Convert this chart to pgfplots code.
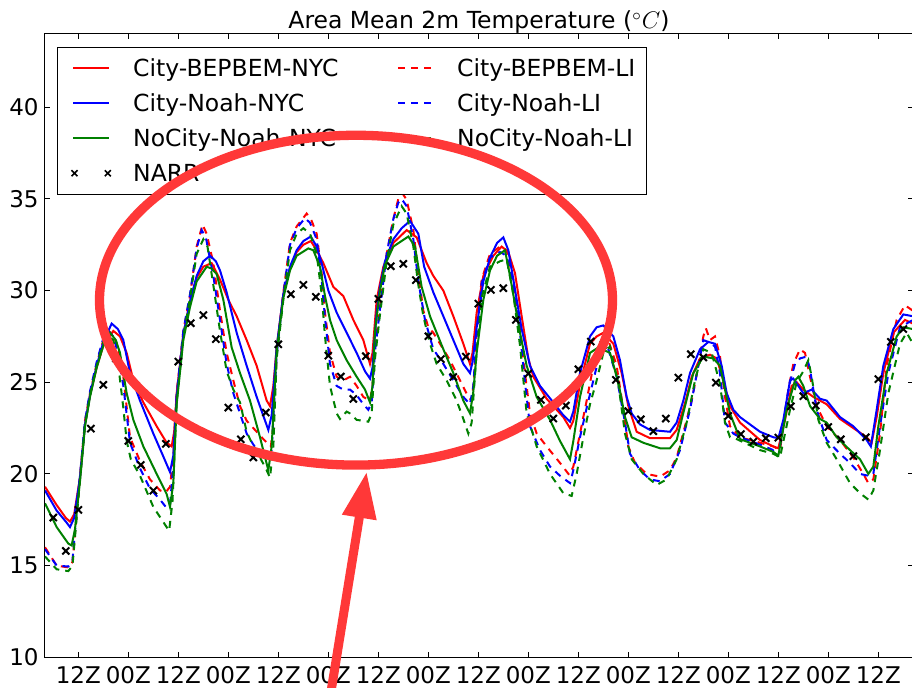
\documentclass[border=0pt]{standalone}
\usepackage{fontspec}
\setmainfont{DejaVu Sans}
\usepackage{pgfplots}
\pgfplotsset{compat=1.18}
\usetikzlibrary{arrows.meta}
\definecolor{mplgreen}{rgb}{0,0.5,0}
\definecolor{annot}{RGB}{255,56,56}
\pgfplotsset{
  legA/.style={legend image code/.code={\path[draw=none,fill=none] (0pt,0pt) rectangle (33pt,0pt); \draw[##1] (3pt,0pt) -- (20.8pt,0pt);}},
  legB/.style={legend image code/.code={\path[draw=none,fill=none] (0pt,0pt) rectangle (29.5pt,0pt); \draw[##1] (0pt,0pt) -- (16.5pt,0pt);}},
  dashedmpl/.style={dash pattern=on 3.5pt off 3pt},
}
\begin{document}
\begin{tikzpicture}
\useasboundingbox (0,0) rectangle (456pt,344pt);
\begin{axis}[
  at={(22.5pt,15.35pt)}, anchor=south west,
  scale only axis, width=433.96pt, height=311.7pt,
  xmin=4, xmax=212.3, ymin=10, ymax=44,
  xtick={12,24,...,204},
  xticklabels={12Z,00Z,12Z,00Z,12Z,00Z,12Z,00Z,12Z,00Z,12Z,00Z,12Z,00Z,12Z,00Z,12Z},
  ytick={10,15,...,40},
  tick align=inside,
  major tick length=2.5pt,
  axis line style={line width=0.5pt},
  tick style={line width=0.5pt, black},
  every tick label/.append style={font=\fontsize{11.5}{13}\selectfont},
  /pgf/number format/assume math mode=true,
  xticklabel style={inner sep=0pt, yshift=-4.4pt, anchor=north},
  yticklabel style={inner sep=0pt, xshift=-3pt, anchor=east},
  title={Area Mean 2m Temperature ($^\circ C$)},
  every axis title/.style={at={(0.5,1)}, anchor=base, yshift=2.5pt, inner sep=0pt, font=\fontsize{11.75}{14}\selectfont},
  legend columns=2,
  legend cell align=left,
  legend style={
    at={(axis description cs:0.0135,0.9796)}, anchor=north west,
    draw=black, line width=0.5pt, fill=white,
    inner xsep=5pt, inner ysep=1.8pt,
    row sep=0pt, column sep=0pt,
    font=\fontsize{11.75}{14}\selectfont,
    nodes={inner sep=0pt, text height=12.9pt, text depth=4.6pt, anchor=west},
    /tikz/column 2/.style={nodes={text width=132pt}},
    /tikz/column 4/.style={nodes={text width=89.65pt}},
  },
]
% City-BEPBEM-NYC
\addplot[red, line width=1pt, legA] coordinates {
(4,19.3)(6.8,18.3)(9,17.6)(10,17.4)(11,17.8)(12.4,19.8)(13.6,22.7)(14.8,24.3)(16.4,25.8)(18,27.0)(20.4,27.8)(22,27.5)(23.6,26.6)(25.2,25.1)(27.6,23.9)(30.8,22.6)(33.2,21.7)(34.4,21.5)(35,22.3)(35.6,24.4)(37.2,27.6)(38.8,29.4)(40.4,30.7)(42,31.3)(44,31.5)(46,30.6)(48,29.5)(50,28.6)(52.4,27.3)(54.8,25.9)(57.2,24.0)(58,23.7)(58.8,24.8)(59.6,26.9)(61.2,29.8)(62.8,31.2)(64.4,32.1)(66,32.5)(67.8,32.7)(69.2,32.2)(70.8,31.5)(73.2,30.2)(75.6,29.7)(78,28.4)(80.4,27.3)(82,26.0)(82.6,26.6)(83.6,29.5)(85.2,31.3)(87.6,32.6)(90.8,33.3)(93.2,32.9)(95.6,31.5)(97.2,30.8)(99.6,30.0)(102,28.6)(104.4,27.1)(106,26.0)(106.6,26.6)(107.6,28.8)(109.2,30.8)(111.6,31.9)(113.6,32.4)(115.2,32.1)(116.8,30.95)(118.4,28.6)(120,26.3)(121.2,25.3)(124.4,24.1)(128.4,23.1)(130,22.5)(130.8,22.9)(132.4,24.9)(134.8,27.1)(136.4,27.5)(138,27.7)(140.4,27.1)(142.4,25.5)(144,23.7)(146,22.3)(149.2,21.95)(154,21.95)(155.6,22.4)(157.6,23.85)(159.2,25.3)(161.2,26.3)(163.6,26.5)(165.2,26.3)(166.8,25.1)(168.4,23.7)(170.8,22.8)(175.6,21.85)(178.8,21.5)(180,21.4)(181.6,22.95)(183.2,24.8)(184.4,25.0)(186,24.6)(188.4,24.2)(191.6,23.8)(194.8,23.0)(198,22.5)(201.2,22.0)(202.4,21.7)(203.6,23.1)(205.2,25.5)(207.6,27.7)(210.4,28.4)(212.3,28.2)
};
\addlegendentry{City-BEPBEM-NYC}
% City-BEPBEM-LI
\addplot[red, line width=1pt, dashedmpl, legB] coordinates {
(4,16.0)(6.8,15.0)(9.6,14.9)(10.6,15.2)(11.6,17.8)(12.4,19.8)(13.6,22.9)(14.8,24.4)(16.4,26.0)(18,27.3)(19.2,27.8)(20.4,27.6)(21.5,26.9)(22.8,25.3)(24.4,22.0)(26.8,20.7)(29.2,19.7)(31.6,19.1)(33,19.0)(34,19.3)(34.8,21.0)(35.6,24.4)(37.2,27.8)(38.8,29.7)(40.4,32.4)(41.8,33.6)(42.8,33.1)(44.4,31.5)(46,28.9)(47.6,26.6)(49.2,25.1)(50.8,23.7)(52.4,22.9)(54,22.5)(56.4,21.9)(58.2,21.5)(58.8,22.6)(59.6,26.6)(61.2,29.9)(62.8,32.6)(64.4,33.5)(66.8,34.2)(68,33.8)(69.2,33.1)(70.4,30.95)(71.2,28.8)(72.4,26.6)(74,25.3)(75.6,25.1)(77.2,25.3)(78.8,24.8)(80.4,24.2)(82,24.0)(82.6,24.8)(83.2,26.9)(84.4,29.1)(86,32.0)(87.6,33.9)(88.8,35.0)(89.8,35.3)(90.8,34.95)(92.4,33.3)(93.6,30.95)(94.8,28.9)(96,28.0)(97.2,27.7)(98.8,27.1)(101.2,26.2)(103.6,25.1)(105.6,24.2)(106.4,24.0)(106.9,25.0)(107.6,27.9)(108.8,30.6)(110.8,32.0)(113.2,32.4)(114.8,32.2)(116.4,30.6)(118,28.0)(119.2,25.5)(120.4,23.3)(122,22.2)(124.4,21.5)(127.6,20.6)(129.8,19.95)(130.8,20.4)(132.4,22.2)(134,24.0)(135.6,25.9)(137.6,27.3)(139.2,27.3)(141.2,25.9)(142.8,23.5)(144,21.5)(145.6,20.6)(148.4,20.0)(151.6,19.85)(154,20.2)(155.6,20.9)(157.6,22.6)(159.2,24.0)(160.8,25.9)(162,27.5)(162.6,27.95)(163.6,27.3)(164.8,27.5)(166,26.4)(167.2,24.2)(168.4,22.6)(170.8,22.0)(175.6,21.7)(178.8,21.5)(180.4,21.3)(182.4,24.6)(183.6,26.0)(185.2,26.8)(186.4,26.6)(187.6,25.3)(189.2,23.7)(191.6,22.6)(194.8,21.85)(198,20.9)(200.4,20.0)(201.6,19.5)(202.8,19.7)(204.4,22.2)(206,25.9)(208.4,28.4)(210.4,29.2)(212.3,28.9)
};
\addlegendentry{City-BEPBEM-LI}
% City-Noah-NYC
\addplot[blue, line width=1pt, legA] coordinates {
(4,19.1)(6.8,18.0)(9,17.4)(10,17.1)(11,17.6)(12.4,19.8)(13.6,22.7)(14.8,24.3)(16.4,25.9)(18,27.2)(20,28.2)(21.5,27.9)(22.8,27.3)(24.4,25.5)(26.8,24.0)(30,22.2)(32.4,20.95)(34,20.1)(34.8,21.0)(35.6,24.2)(37.2,27.6)(38.8,29.4)(40.4,30.8)(42,31.6)(43.6,31.9)(45,31.6)(46,31.1)(47.6,29.9)(50,27.7)(52.4,25.9)(54.8,24.2)(57.6,22.4)(58.4,23.2)(59.6,26.9)(61.2,29.8)(62.8,31.3)(64.4,32.2)(66,32.7)(67.8,32.95)(69.2,32.4)(70.4,31.5)(72,30.0)(74,28.8)(76.4,27.7)(78.8,26.6)(80.8,25.6)(82,25.2)(82.6,25.8)(83.6,28.8)(84.4,30.2)(85.6,31.6)(87.6,32.8)(89.6,33.4)(91.6,33.8)(93.6,33.1)(95,31.3)(97.2,29.9)(99.6,28.6)(102,27.3)(104.4,26.0)(106,25.5)(106.6,26.1)(107.6,28.0)(109.2,30.5)(110.8,31.8)(112.5,32.6)(114,32.9)(115.2,32.2)(116.4,30.6)(118.4,27.9)(120.4,25.9)(122.8,24.8)(126,23.9)(128.4,23.2)(130,22.85)(130.8,23.4)(132.4,25.5)(134.8,27.5)(136.4,28.0)(138,28.1)(140.4,27.5)(142,26.2)(143.6,24.2)(144.8,23.3)(146.8,22.7)(149.2,22.4)(154,22.3)(155.6,22.8)(157.2,24.0)(158.8,25.5)(161.2,26.8)(163.2,27.2)(164.8,27.1)(166.4,25.9)(167.6,24.4)(169.2,23.5)(170.8,23.1)(175.6,22.3)(178.8,22.0)(180,21.95)(181.2,22.95)(182.8,25.1)(183.6,25.2)(186,24.4)(188,24.6)(190,24.1)(191.6,24.0)(194.8,23.1)(198,22.6)(201.2,21.85)(202.2,21.5)(203.6,23.5)(205.2,25.9)(207.6,27.9)(210,28.7)(212.3,28.6)
};
\addlegendentry{City-Noah-NYC}
% City-Noah-LI
\addplot[blue, line width=1pt, dashedmpl, legB] coordinates {
(4,15.9)(6.8,15.0)(9.6,14.95)(10.6,15.3)(11.6,17.9)(12.4,19.9)(13.6,22.9)(14.8,24.5)(16.4,26.1)(18,27.4)(19.2,27.8)(20.4,27.5)(21.5,26.6)(22.8,24.8)(24.4,21.7)(26.8,20.3)(29.2,19.2)(31.6,18.6)(33,18.2)(34,18.3)(34.8,20.5)(35.6,24.3)(37.2,27.8)(38.8,29.8)(40.4,32.3)(41.6,33.3)(42.6,32.9)(44.4,30.8)(46,28.4)(47.6,26.0)(49.2,24.4)(50.8,23.3)(52.4,22.2)(54,21.6)(55.6,21.1)(57.6,20.9)(58.4,21.3)(59.6,26.5)(61.2,29.8)(62.8,32.5)(64.4,33.4)(66.4,33.95)(67.6,33.7)(69.2,32.8)(70.4,30.6)(71.2,28.5)(72.4,26.0)(74,24.8)(75.6,24.6)(77.2,24.6)(78.8,24.3)(80.4,23.8)(81.6,23.5)(82.4,23.9)(83.2,26.7)(84.4,29.0)(86,32.0)(87.6,33.9)(88.8,34.8)(89.6,35.0)(90.8,34.6)(92.4,32.8)(93.6,30.5)(95.2,28.4)(97.2,26.8)(99.6,26.0)(102,25.1)(104.4,24.2)(106,23.8)(106.8,24.8)(107.6,27.6)(108.8,30.4)(110.8,31.8)(113.2,32.1)(114.8,31.9)(116.4,30.3)(118,27.7)(119.2,25.0)(120.4,22.6)(122.8,21.3)(125.2,20.4)(127.6,19.9)(130,19.5)(130.8,20.2)(132.4,22.0)(134,23.6)(135.6,25.1)(137.2,26.6)(138.8,27.1)(141.2,25.3)(143.2,22.8)(144.4,21.1)(146.8,20.2)(149.2,19.7)(151.6,19.6)(154,20.0)(156.4,21.3)(158.8,23.5)(160.8,25.9)(162,27.3)(163.2,27.2)(164.8,26.95)(166,25.5)(167.2,22.8)(169.2,22.2)(170.8,22.0)(175.6,21.6)(178.8,21.3)(180.4,21.5)(182,24.0)(182.8,25.0)(184,26.0)(185.2,26.3)(186.8,26.4)(187.6,25.7)(189.2,23.5)(191.6,21.85)(194.8,21.1)(197.2,20.6)(199.6,20.0)(201.6,19.9)(202.8,20.0)(204.4,22.6)(206.4,25.5)(209.2,28.0)(212.3,28.4)
};
\addlegendentry{City-Noah-LI}
% NoCity-Noah-NYC
\addplot[mplgreen, line width=1pt, legA] coordinates {
(4,18.4)(6.8,17.1)(9.6,16.2)(10.4,16.1)(11.2,17.0)(12.4,19.6)(13.6,22.6)(14.8,24.2)(16.4,25.8)(18,27.0)(19.6,27.7)(21,27.3)(22,26.6)(23.6,24.4)(25.2,22.95)(27.6,21.5)(30.8,20.0)(33.2,18.9)(34,18.2)(34.8,19.5)(35.6,23.8)(37.2,27.3)(38.8,29.1)(40.4,30.5)(42.8,31.3)(44,31.2)(45.2,30.9)(46.8,29.5)(48.8,26.9)(50.8,25.5)(53.2,24.0)(55.6,22.0)(57.6,20.2)(58.4,21.5)(59.6,26.7)(61.2,29.6)(62.8,31.1)(64.4,31.9)(67.2,32.3)(68.4,32.2)(70,31.3)(71.2,29.7)(72.4,28.4)(74,27.3)(76.4,26.2)(78.8,25.3)(80.8,24.6)(82,23.9)(82.6,24.8)(83.2,27.8)(84.4,30.0)(85.6,31.4)(87.6,32.4)(91.2,32.95)(92.8,32.4)(94.4,30.2)(96.4,28.6)(99.6,26.8)(102,25.5)(104.4,24.0)(106,23.3)(106.8,24.5)(107.6,26.6)(109.2,29.5)(110.8,31.1)(112.5,31.9)(114.4,32.2)(115.6,30.8)(118,27.7)(119.6,25.9)(122,24.2)(125.2,22.95)(127.6,21.8)(130,20.8)(130.8,21.8)(132.4,24.2)(134.8,26.6)(136.8,26.9)(139.6,26.6)(141.6,25.0)(143.2,23.1)(144.8,22.0)(147.6,21.7)(151.6,21.4)(154,21.4)(155.6,21.85)(157.6,23.7)(159.6,25.5)(162,26.4)(164.4,26.3)(166,25.9)(167.2,24.6)(168.4,23.3)(170.8,21.9)(175.6,21.5)(178.8,21.2)(180,21.0)(182,23.5)(184,25.1)(184.8,25.3)(186,24.8)(187.6,23.7)(190,23.0)(191.6,22.8)(194,22.0)(197.2,21.3)(199.6,20.8)(201.6,20.0)(202.8,20.4)(204,22.6)(206,25.5)(208.4,27.5)(210,28.0)(212.3,27.9)
};
\addlegendentry{NoCity-Noah-NYC}
% NoCity-Noah-LI
\addplot[mplgreen, line width=1pt, dashedmpl, legB] coordinates {
(4,15.5)(6.8,14.8)(9.6,14.7)(10.6,15.0)(11.6,17.6)(12.4,19.7)(13.6,22.7)(14.8,24.3)(16.4,25.9)(18,27.2)(19.2,27.5)(20.4,27.3)(21.5,26.1)(22.8,23.6)(23.6,21.8)(24.6,20.8)(26.8,19.9)(30,18.2)(33.2,17.1)(33.8,16.9)(34.6,18.5)(35.6,23.9)(37.2,27.5)(38.8,29.6)(40.4,32.0)(42,32.8)(43,32.4)(44.4,30.3)(46,27.8)(47.6,25.6)(49.2,24.6)(50.8,23.9)(52.4,22.3)(54,21.5)(55.6,20.9)(57.2,20.2)(58,19.8)(58.8,21.5)(59.6,26.3)(61.2,29.5)(62.8,32.2)(64.4,33.1)(66,33.4)(67.6,33.1)(69.2,32.0)(70.4,29.8)(71.2,27.5)(72.4,24.8)(74,23.3)(74.8,23.0)(76.4,23.4)(77.2,23.3)(78.8,22.95)(81.6,22.85)(82.4,23.3)(83.2,26.3)(84.4,28.7)(86,31.6)(87.6,33.6)(89.6,34.6)(90.8,34.2)(92.4,32.4)(93.6,30.3)(94.8,28.6)(96.4,27.1)(98,26.0)(100.4,25.1)(102.8,24.0)(104.4,23.0)(105.6,22.2)(106.4,22.8)(107.6,26.7)(108.8,29.6)(110.8,31.3)(113.2,31.6)(114.8,31.7)(116.4,29.8)(118,27.0)(119.6,23.3)(122,21.5)(125.2,20.0)(128.4,18.95)(130.4,18.8)(131.6,20.0)(133.2,22.0)(134.8,23.8)(136.4,25.1)(138,26.6)(139.6,26.95)(141.6,24.9)(143.2,22.2)(144.8,20.8)(147.6,20.0)(150.8,19.4)(153.2,19.7)(155.6,20.8)(158,22.8)(160,25.1)(162,26.8)(164,26.6)(166,24.9)(167.2,22.8)(168.4,22.0)(170,21.9)(175.6,21.3)(178.8,21.1)(180.4,20.9)(182.8,23.5)(184.4,25.0)(186,25.6)(187.2,26.2)(188,25.3)(189.6,22.95)(191.6,21.7)(194,20.8)(197.2,19.5)(199.6,18.95)(201.6,18.6)(202.8,19.1)(204.4,21.3)(206.4,24.4)(209.2,27.1)(210.8,27.7)(212.3,27.1)
};
\addlegendentry{NoCity-Noah-LI}
% NARR
\addplot[only marks, mark=x, mark size=2.5pt, mark options={black, line width=1pt},
  legend image code/.code={\path[draw=none,fill=none] (0pt,0pt) rectangle (33pt,0pt);
    \draw[black,line width=0.8pt] (2.15pt,-1.5pt)--(5.15pt,1.5pt) (2.15pt,1.5pt)--(5.15pt,-1.5pt)
      (18.8pt,-1.5pt)--(21.8pt,1.5pt) (18.8pt,1.5pt)--(21.8pt,-1.5pt);}] coordinates {
(6,17.62)(9,15.8)(12,18.04)(15,22.47)(18,24.86)(21,26.3)(24,21.8)(27,20.49)(30,19.09)(33,21.64)(36,26.13)(39,28.22)(42,28.66)(45,27.35)(48,23.62)(51,21.89)(54,20.9)(57,23.35)(60,27.07)(63,29.8)(66,30.31)(69,29.66)(72,26.45)(75,25.31)(78,24.09)(81,26.42)(84,29.55)(87,31.33)(90,31.46)(93,30.57)(96,27.51)(99,26.26)(102,25.29)(105,26.4)(108,29.29)(111,30.04)(114,30.13)(117,28.4)(120,25.47)(123,24.04)(126,23.02)(129,23.73)(132,25.71)(135,27.22)(138,27.05)(141,25.13)(144,23.42)(147,22.98)(150,22.33)(153,23.02)(156,25.25)(159,26.53)(162,26.35)(165,24.98)(168,23.16)(171,22.17)(174,21.76)(177,21.95)(180,21.98)(183,23.69)(186,24.24)(189,23.73)(192,22.56)(195,21.89)(198,20.97)(201,22.0)(204,25.17)(207,27.2)(210,27.9)
};
\addlegendentry{NARR}
\end{axis}
% annotation overlay (ellipse and arrow)
\draw[annot, line width=4.65pt] (178pt,193.9pt) ellipse [x radius=128.25pt, y radius=82.45pt];
\draw[annot, line width=4.5pt, -{Triangle[length=23.2pt,width=16.25pt]}] (165.15pt,-4pt) -- (183.35pt,108.15pt);
\end{tikzpicture}
\end{document}
